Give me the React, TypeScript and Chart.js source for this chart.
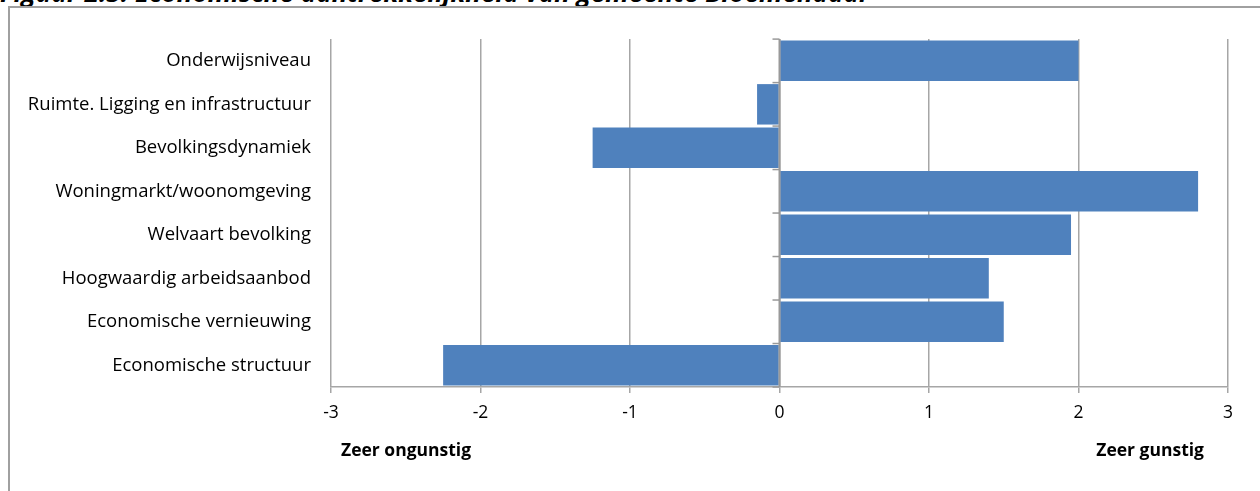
import React, { useEffect, useRef } from "react";
import { Chart, registerables } from "chart.js";

Chart.register(...registerables);

const categories = [
  "Onderwijsniveau",
  "Ruimte. Ligging en infrastructuur",
  "Bevolkingsdynamiek",
  "Woningmarkt/woonomgeving",
  "Welvaart bevolking",
  "Hoogwaardig arbeidsaanbod",
  "Economische vernieuwing",
  "Economische structuur",
];
const scores = [2.0, -0.15, -1.25, 2.8, 1.95, 1.4, 1.5, -2.25];
const xMin = -3;
const xMax = 3;
const leftNote = "Zeer ongunstig";
const rightNote = "Zeer gunstig";
const titleText = "Figuur 2.3: Economische aantrekkelijkheid van gemeente Bloemendaal";

const FONT = "'Open Sans', 'Noto Sans', sans-serif";
const GRID = "#a6a6a6";

const extrasPlugin = {
  id: "extras",
  afterDatasetsDraw(chart: any) {
    const { ctx, chartArea, scales } = chart;
    const x = scales.x;
    const x0 = x.getPixelForValue(0);
    ctx.save();
    // zero axis line
    ctx.strokeStyle = "#999999";
    ctx.lineWidth = 2;
    ctx.beginPath();
    ctx.moveTo(x0, chartArea.top);
    ctx.lineTo(x0, chartArea.bottom);
    ctx.stroke();
    // category tick marks on the zero axis
    const n = categories.length;
    const step = (chartArea.bottom - chartArea.top) / n;
    ctx.lineWidth = 1.5;
    for (let i = 0; i <= n; i++) {
      const yy = chartArea.top + i * step;
      ctx.beginPath();
      ctx.moveTo(x0 - 7, yy);
      ctx.lineTo(x0, yy);
      ctx.stroke();
    }
    // notes
    ctx.fillStyle = "#000";
    ctx.font = `bold 17.5px ${FONT}`;
    ctx.textBaseline = "middle";
    ctx.textAlign = "left";
    const ny = chartArea.bottom + 64;
    ctx.fillText(leftNote, x.getPixelForValue(xMin) + 10, ny);
    ctx.textAlign = "right";
    ctx.fillText(rightNote, x.getPixelForValue(xMax) - 24, ny);
    ctx.restore();
  },
};

export default function App() {
  const ref = useRef<HTMLCanvasElement | null>(null);
  useEffect(() => {
    if (!ref.current) return;
    const chart = new Chart(ref.current, {
      type: "bar",
      data: {
        labels: categories,
        datasets: [
          {
            data: scores,
            backgroundColor: "#4f81bd",
            borderWidth: 0,
            barPercentage: 0.93,
            categoryPercentage: 1,
          },
        ],
      },
      options: {
        indexAxis: "y",
        animation: false,
        responsive: false,
        maintainAspectRatio: false,
        layout: { padding: { left: 0, right: 32, top: 26, bottom: 0 } },
        plugins: {
          legend: { display: false },
          tooltip: { enabled: false },
          title: { display: false },
        },
        scales: {
          x: {
            type: "linear",
            min: xMin,
            max: xMax,
            ticks: {
              stepSize: 1,
              color: "#000",
              font: { family: FONT, size: 17.5 },
              padding: 10,
            },
            grid: {
              color: GRID,
              lineWidth: 1.5,
              tickLength: 6,
              tickColor: GRID,
            },
            border: { display: true, color: GRID, width: 1.5 },
            afterFit(scale: any) {
              scale.height = 105;
            },
          },
          y: {
            type: "category",
            ticks: {
              color: "#000",
              font: { family: FONT, size: 18.5 },
              padding: 20,
            },
            grid: { display: false, drawTicks: false },
            border: { display: false },
            afterFit(scale: any) {
              scale.width = 321;
            },
          },
        },
      },
      plugins: [extrasPlugin],
    });
    return () => chart.destroy();
  }, []);

  return (
    <div
      style={{
        position: "fixed",
        left: 0,
        top: 0,
        width: 1260,
        height: 491,
        overflow: "hidden",
        background: "#fff",
      }}
    >
      <div
        style={{
          position: "absolute",
          left: 0,
          top: -21,
          fontFamily: FONT,
          fontWeight: "bold",
          fontStyle: "italic",
          fontSize: 26,
          lineHeight: "26px",
          whiteSpace: "nowrap",
          color: "#000",
        }}
      >
        {titleText}
      </div>
      <div
        style={{
          position: "absolute",
          left: 8,
          top: 6,
          width: 1252,
          height: 485,
          borderTop: "2px solid #a0a0a0",
          borderLeft: "2px solid #a0a0a0",
        }}
      >
        <canvas ref={ref} width={1250} height={484} style={{ display: "block" }} />
      </div>
    </div>
  );
}
